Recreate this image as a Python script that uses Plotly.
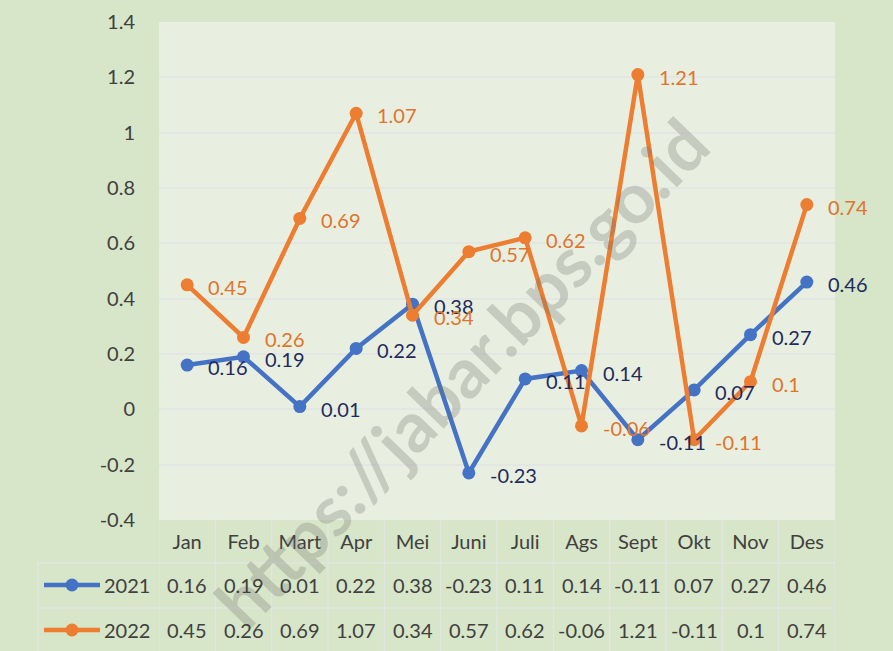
import plotly.graph_objects as go

months = ["Jan", "Feb", "Mart", "Apr", "Mei", "Juni", "Juli", "Ags", "Sept", "Okt", "Nov", "Des"]
series_names = ["2021", "2022"]
vals_2021 = [0.16, 0.19, 0.01, 0.22, 0.38, -0.23, 0.11, 0.14, -0.11, 0.07, 0.27, 0.46]
vals_2022 = [0.45, 0.26, 0.69, 1.07, 0.34, 0.57, 0.62, -0.06, 1.21, -0.11, 0.1, 0.74]
y_ticks = [-0.4, -0.2, 0, 0.2, 0.4, 0.6, 0.8, 1, 1.2, 1.4]
y_ticktext = ["-0.4", "-0.2", "0", "0.2", "0.4", "0.6", "0.8", "1", "1.2", "1.4"]
watermark = "https://jabar.bps.go.id"

line_colors = ["#4472C4", "#ED7D31"]
label_colors = ["#1F2A5E", "#E0742B"]
text_color = "#404040"
FONT = "Lato"

W, H = 893, 651
L, R, T, B = 159, 58, 22, 131
PW = W - L - R
PH = H - T - B

def px_to_py(y):
    return (H - B - y) / PH

def px_to_px(x):
    return (x - L) / PW

fig = go.Figure()
all_vals = [vals_2021, vals_2022]
for name, vals, col in zip(series_names, all_vals, line_colors):
    fig.add_trace(go.Scatter(
        x=months, y=vals, mode="lines+markers", name=name,
        line=dict(color=col, width=4.5),
        marker=dict(color=col, size=13),
        showlegend=False, cliponaxis=False,
    ))

annotations = []
# watermark
annotations.append(dict(
    x=px_to_px(461), y=px_to_py(372), xref="paper", yref="paper",
    xanchor="center", yanchor="middle",
    text=watermark, showarrow=False, textangle=-46,
    font=dict(family=FONT, size=70, color="rgba(110,110,110,0.28)", weight="bold"),
))

# data labels
for vals, lc in zip(all_vals, label_colors):
    for m, v in zip(months, vals):
        annotations.append(dict(
            x=m, y=v, xref="x", yref="y", text=f"{v:g}", showarrow=False,
            xanchor="left", yanchor="middle", xshift=19, yshift=-2,
            font=dict(family=FONT, size=20, color=lc),
        ))

# data table
row_y = [px_to_py(585), px_to_py(630)]
for vals, ry in zip(all_vals, row_y):
    for m, v in zip(months, vals):
        annotations.append(dict(
            x=m, y=ry, xref="x", yref="paper", text=f"{v:g}", showarrow=False,
            xanchor="center", yanchor="middle",
            font=dict(family=FONT, size=20, color=text_color),
        ))

shapes = []
# legend keys in table
for name, col, ry in zip(series_names, line_colors, row_y):
    shapes.append(dict(type="line", xref="paper", yref="paper",
                       x0=px_to_px(44), x1=px_to_px(100), y0=ry, y1=ry,
                       line=dict(color=col, width=4.5)))
    shapes.append(dict(type="circle", xref="paper", yref="paper",
                       xsizemode="pixel", ysizemode="pixel",
                       xanchor=px_to_px(72), yanchor=ry,
                       x0=-6.5, x1=6.5, y0=-6.5, y1=6.5,
                       fillcolor=col, line=dict(color=col, width=0)))
    annotations.append(dict(
        x=px_to_px(102), y=ry, xref="paper", yref="paper", text=name,
        showarrow=False, xanchor="left", yanchor="middle",
        font=dict(family=FONT, size=20, color=text_color),
    ))

grid_col = "rgba(225,230,228,0.95)"
# table lines
for k in range(len(months) + 1):
    shapes.append(dict(type="line", xref="x", yref="paper",
                       x0=k - 0.5, x1=k - 0.5, y0=0, y1=px_to_py(651),
                       line=dict(color=grid_col, width=1.5)))
for yy in [563, 608]:
    shapes.append(dict(type="line", xref="paper", yref="paper",
                       x0=px_to_px(38), x1=1, y0=px_to_py(yy), y1=px_to_py(yy),
                       line=dict(color=grid_col, width=1.5)))
shapes.append(dict(type="line", xref="paper", yref="paper",
                   x0=px_to_px(38), x1=px_to_px(38), y0=px_to_py(563), y1=px_to_py(651),
                   line=dict(color=grid_col, width=1.5)))

fig.update_layout(
    width=W, height=H,
    margin=dict(l=L, r=R, t=T, b=B, pad=0, autoexpand=False),
    paper_bgcolor="#d7e5c8",
    plot_bgcolor="#e8efe0",
    font=dict(family=FONT, size=20, color=text_color),
    annotations=annotations,
    shapes=shapes,
)
fig.update_xaxes(
    type="category", range=[-0.5, len(months) - 0.5],
    showgrid=False, zeroline=False, showline=False,
    ticks="outside", ticklen=4, tickcolor="rgba(0,0,0,0)",
    tickfont=dict(family=FONT, size=20, color=text_color),
)
fig.update_yaxes(
    range=[-0.4, 1.4], tickvals=y_ticks, ticktext=y_ticktext,
    showgrid=True, gridcolor=grid_col, gridwidth=2,
    zeroline=False, showline=False,
    ticks="outside", ticklen=19, tickcolor="rgba(0,0,0,0)",
    tickfont=dict(family=FONT, size=20, color=text_color),
)

fig.write_html(
    "out.html",
    config={"displayModeBar": False},
    post_script="document.body.style.margin='0';document.body.style.padding='0';document.body.style.overflow='hidden';",
)
